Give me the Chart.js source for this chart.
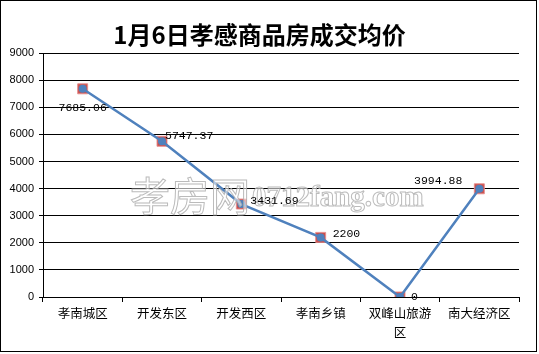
<!DOCTYPE html>
<html><head><meta charset="utf-8">
<script src="https://cdn.jsdelivr.net/npm/chart.js@4.4.1/dist/chart.umd.min.js"></script>
<style>html,body{margin:0;padding:0;background:#fff}canvas{display:block}</style>
</head><body>
<canvas id="c" width="539" height="354"></canvas>
<script>
const titleText = '1月6日孝感商品房成交均价';
const categories = ['孝南城区','开发东区','开发西区','孝南乡镇','双峰山旅游区','南大经济区'];
const prices = [7685.06, 5747.37, 3431.69, 2200, 0, 3994.88];
const yTicks = [0,1000,2000,3000,4000,5000,6000,7000,8000,9000];

const labelPlacement = [[0,19,'center'],[3,-5,'left'],[9,-3,'left'],[12,-3,'left'],[11,0,'left'],[-17,-8,'right']];

const framePlugin = {
  id:'frame',
  beforeDraw(chart){
    const ctx = chart.ctx;
    ctx.save();
    ctx.fillStyle='#fff';
    ctx.fillRect(0,0,chart.width,chart.height);
    ctx.strokeStyle='#000';
    ctx.lineWidth=1;
    ctx.strokeRect(0.5,0.5,536,351);
    ctx.restore();
  },
  afterDatasetsDraw(chart){
    const ctx = chart.ctx;
    ctx.save();
    ctx.textBaseline='middle';
    ctx.lineWidth=1;
    ctx.strokeStyle='rgba(170,170,170,0.8)';
    ctx.fillStyle='rgba(255,255,255,0.55)';
    ctx.font='40px "Noto Sans CJK SC"';
    ctx.textAlign='left';
    ctx.fillText('孝房网',130,196);
    ctx.strokeText('孝房网',130,196);
    ctx.font='bold 29px "Liberation Serif"';
    ctx.fillText('0712fang.com',252,199);
    ctx.strokeText('0712fang.com',252,199);
    ctx.restore();
  },
  afterDraw(chart){
    const ctx = chart.ctx;
    const meta = chart.getDatasetMeta(0);
    ctx.save();
    ctx.font='11.5px "Liberation Mono"';
    ctx.fillStyle='#000';
    ctx.textBaseline='middle';
    meta.data.forEach((pt,i)=>{
      const p = labelPlacement[i];
      ctx.textAlign = p[2];
      ctx.fillText(String(prices[i]), pt.x+p[0], pt.y+p[1]);
    });
    ctx.restore();
  }
};

new Chart(document.getElementById('c'),{
  type:'line',
  data:{
    labels:categories,
    datasets:[
      {data:prices,borderColor:'#4F81BD',borderWidth:2.5,pointStyle:'circle',pointRadius:4,
       pointBackgroundColor:'#4F81BD',pointBorderColor:'#4F81BD',pointBorderWidth:0,order:1,tension:0},
      {data:prices,showLine:false,pointStyle:'rect',pointRadius:7.07,pointBackgroundColor:'#C9504D',
       pointBorderColor:'rgba(230,140,140,0.9)',pointBorderWidth:1,order:2}
    ]
  },
  options:{
    responsive:false,
    animation:false,
    devicePixelRatio:1,
    layout:{padding:{top:0,right:20,bottom:0,left:0}},
    plugins:{
      legend:{display:false},
      tooltip:{enabled:false},
      title:{display:true,text:titleText,color:'#000',
        font:{family:'"Noto Sans CJK SC"',size:24,weight:'bold',lineHeight:1.2},
        padding:{top:20,bottom:4.4}}
    },
    scales:{
      x:{
        offset:true,
        grid:{offset:true,drawOnChartArea:false,drawTicks:true,tickLength:5,color:'#000',lineWidth:1},
        border:{display:true,color:'#000',width:1},
        ticks:{color:'#000',padding:2,maxRotation:0,minRotation:0,autoSkip:false,
          font:{family:'"Noto Sans CJK SC"',size:12.5,lineHeight:1.5},
          callback(v,i){const s=categories[i]; return s.length>5?[s.slice(0,5),s.slice(5)]:s;}},
        afterFit(s){s.height=57;}
      },
      y:{
        min:0,max:9000,
        afterBuildTicks(s){s.ticks=yTicks.map(v=>({value:v}));},
        grid:{color:'#000',lineWidth:1,drawTicks:true,tickLength:4},
        border:{display:true,color:'#000',width:1},
        ticks:{color:'#000',padding:5,font:{family:'"Liberation Sans"',size:11},
          callback(v){return String(v);}},
        afterFit(s){s.width=43;}
      }
    }
  },
  plugins:[framePlugin]
});
</script>
</body></html>
